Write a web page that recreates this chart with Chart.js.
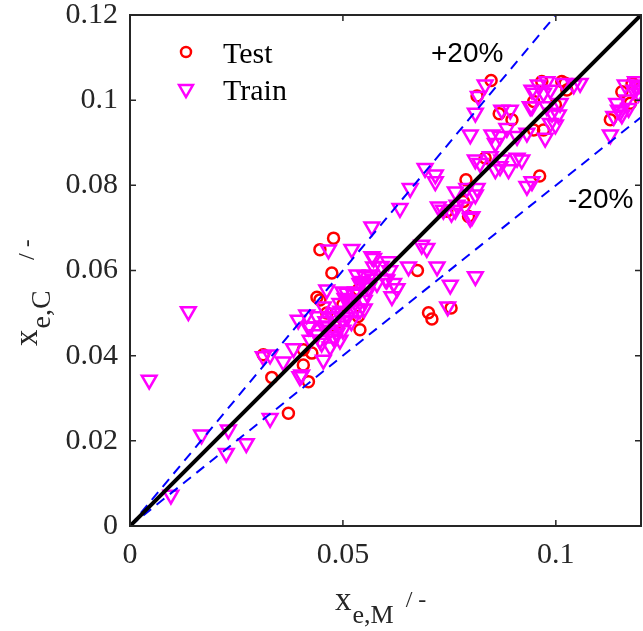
<!DOCTYPE html>
<html><head><meta charset="utf-8">
<script src="https://cdn.jsdelivr.net/npm/chart.js@4.4.1/dist/chart.umd.min.js"></script>
<style>html,body{margin:0;padding:0;background:#fff;overflow:hidden}canvas{display:block}</style>
</head><body>
<canvas id="c" width="643" height="631"></canvas>
<script>
// ---------- data ----------
const seriesNames = ['Test', 'Train'];
const testX = [0.0313,0.0333,0.0372,0.0407,0.0407,0.0419,0.0478,0.0446,0.0474,0.0439,0.0446,0.0536,0.0536,0.0540,0.0427,
  0.0675,0.0701,0.0709,0.0754,0.0783,0.0789,0.0744,0.0795,0.0848,0.0815,0.0867,0.0897,0.0948,0.0948,0.0971,0.0967,0.1014,
  0.0962,0.0834,0.1026,0.0999,0.1155,0.1128,0.1179,0.1175,0.1022,0.0462,0.0500,0.0480];
const testY = [0.0402,0.0349,0.0265,0.0414,0.0378,0.0339,0.0676,0.0649,0.0594,0.0537,0.0531,0.0555,0.0492,0.0461,0.0406,
  0.0600,0.0501,0.0486,0.0512,0.0762,0.0813,0.0739,0.0727,0.1046,0.1010,0.0968,0.0954,0.0997,0.0930,0.0930,0.1044,0.1044,
  0.0822,0.0864,0.1024,0.0989,0.1020,0.0954,0.1040,0.0993,0.1040,0.0500,0.0520,0.0470];
const trainX = [0.0137,0.0045,0.0168,0.0231,0.0226,0.0273,0.0329,0.0096,0.0313,0.0360,0.0384,0.0399,0.0395,0.0415,0.0419,
  0.0568,0.0521,0.0466,0.0552,0.0568,0.0572,0.0509,0.0462,0.0403,0.0454,0.0486,0.0478,0.0423,0.0439,0.0493,0.0525,0.0556,
  0.0540,0.0580,0.0446,0.0470,0.0423,0.0533,0.0454,0.0478,0.0501,0.0493,0.0329,0.0462,0.0693,0.0717,0.0717,0.0658,0.0634,
  0.0572,0.0607,0.0619,0.0627,0.0615,0.0654,0.0685,0.0697,0.0721,0.0752,0.0811,0.0746,0.0736,0.0764,0.0803,0.0764,0.0815,
  0.0811,0.0822,0.0834,0.0818,0.0811,0.0799,0.0873,0.0893,0.0850,0.0869,0.0885,0.0858,0.0909,0.0932,0.0940,0.0971,0.0987,
  0.0991,0.0999,0.0975,0.1018,0.0952,0.0811,0.0846,0.0873,0.0909,0.0920,0.0858,0.0889,0.0869,0.0791,0.0724,0.0768,0.0787,
  0.0932,0.0944,0.0944,0.0959,0.0979,0.1057,0.1042,0.0944,0.0979,0.1006,0.0987,0.1163,0.1187,0.1198,0.1143,0.1167,0.1171,
  0.1151,0.1136,0.1128,0.1183,0.1191,0.1194,0.1147,0.1155,0.1010,0.0755,0.0799,0.0603,
  0.0480,0.0510,0.0530,0.0550,0.0490,0.0520,0.0470,0.0540,0.0560,0.0570,0.0500,0.0460,0.0440,0.0450,0.0590,0.0600,0.0610,
  0.0510,0.0530,0.0490,0.0480,0.0500,0.0520,0.0550,
  0.0455,0.0475,0.0495,0.0515,0.0535,0.0555,0.0505,0.0525,0.0545,0.0565];
const trainY = [0.0504,0.0343,0.0214,0.0226,0.0171,0.0194,0.0253,0.0073,0.0398,0.0386,0.0417,0.0351,0.0484,0.0496,0.0468,
  0.0703,0.0650,0.0649,0.0586,0.0633,0.0609,0.0547,0.0555,0.0355,0.0390,0.0453,0.0492,0.0468,0.0492,0.0523,0.0531,0.0547,
  0.0508,0.0570,0.0437,0.0421,0.0437,0.0590,0.0515,0.0445,0.0484,0.0437,0.0402,0.0468,0.0840,0.0825,0.0809,0.0793,0.0746,
  0.0629,0.0621,0.0570,0.0558,0.0539,0.0609,0.0660,0.0652,0.0609,0.0566,0.0586,0.0515,0.0742,0.0742,0.0727,0.0785,0.0793,
  0.0778,0.0852,0.1036,0.1009,0.0970,0.0919,0.0977,0.0977,0.0919,0.0915,0.0934,0.0899,0.0915,0.0923,0.0985,0.1017,0.1024,
  0.0970,0.0942,0.0911,0.1040,0.1017,0.0860,0.0868,0.0860,0.0864,0.0860,0.0837,0.0837,0.0844,0.0793,0.0750,0.0754,0.0750,
  0.0798,0.0809,0.1024,0.1036,0.1044,0.1040,0.1036,0.0985,0.0985,0.0966,0.0946,0.1036,0.1044,0.1036,0.0993,0.1001,0.0981,
  0.0973,0.0962,0.0919,0.1024,0.1032,0.1017,0.0977,0.0966,0.0993,0.0735,0.0723,0.0578,
  0.0500,0.0490,0.0550,0.0530,0.0470,0.0510,0.0460,0.0570,0.0560,0.0580,0.0550,0.0480,0.0450,0.0430,0.0610,0.0580,0.0600,
  0.0530,0.0510,0.0500,0.0440,0.0460,0.0480,0.0510,
  0.0470,0.0490,0.0505,0.0525,0.0545,0.0565,0.0535,0.0545,0.0575,0.0590];
const refLineX = [0, 0.12];   const refLineY = [0, 0.12];
const plusLineX = [0, 0.1];   const plusLineY = [0, 0.12];
const minusLineX = [0, 0.12]; const minusLineY = [0, 0.096];
const xTicks = [0, 0.05, 0.1];
const xTickLabels = ['0', '0.05', '0.1'];
const yTicks = [0, 0.02, 0.04, 0.06, 0.08, 0.1, 0.12];
const yTickLabels = ['0', '0.02', '0.04', '0.06', '0.08', '0.1', '0.12'];
const annotations = ['+20%', '-20%'];

// ---------- chart ----------
const zip = (xs, ys) => xs.map((v, i) => ({ x: v, y: ys[i] }));
const SERIF = "'Liberation Serif','Times New Roman',serif";
const SANS = "'Liberation Sans',Arial,sans-serif";
const AXC = '#262626';
const noPad = s => { s.paddingTop = 0; s.paddingBottom = 0; s.paddingLeft = 0; s.paddingRight = 0; };

const framePlugin = {
  id: 'frame',
  afterDraw(chart) {
    const { ctx, chartArea: a, scales: { x, y } } = chart;
    ctx.save();
    // box
    ctx.strokeStyle = AXC; ctx.lineWidth = 2;
    ctx.strokeRect(a.left, a.top, a.right - a.left, a.bottom - a.top);
    // inward ticks
    const L = 6; ctx.lineWidth = 1.5; ctx.beginPath();
    xTicks.forEach(v => { const p = x.getPixelForValue(v);
      ctx.moveTo(p, a.bottom); ctx.lineTo(p, a.bottom - L);
      ctx.moveTo(p, a.top); ctx.lineTo(p, a.top + L); });
    yTicks.forEach(v => { const p = y.getPixelForValue(v);
      ctx.moveTo(a.left, p); ctx.lineTo(a.left + L, p);
      ctx.moveTo(a.right, p); ctx.lineTo(a.right - L, p); });
    ctx.stroke();

    // legend
    ctx.lineWidth = 2.5;
    ctx.strokeStyle = '#FF0000';
    ctx.beginPath(); ctx.arc(186, 52, 5, 0, Math.PI * 2); ctx.stroke();
    ctx.strokeStyle = '#FF00FF';
    ctx.beginPath();
    const tx = 186, ty = 89, r = 8;
    for (let k = 0; k < 3; k++) {
      const ang = Math.PI + k * 2 * Math.PI / 3;
      const px = tx + Math.sin(ang) * r, py = ty - Math.cos(ang) * r;
      k === 0 ? ctx.moveTo(px, py) : ctx.lineTo(px, py);
    }
    ctx.closePath(); ctx.stroke();
    ctx.fillStyle = '#000';
    ctx.font = `30px ${SERIF}`; ctx.textBaseline = 'alphabetic'; ctx.textAlign = 'left';
    ctx.fillText(seriesNames[0], 223, 63);
    ctx.fillText(seriesNames[1], 223, 100);

    // annotations
    ctx.font = `28px ${SANS}`;
    ctx.fillText(annotations[0], 431, 62);
    ctx.fillText(annotations[1], 568, 208);

    // x axis title
    ctx.fillStyle = '#262626';
    ctx.font = `33px ${SERIF}`;
    ctx.fillText('x', 335, 610);
    let w = ctx.measureText('x').width;
    ctx.font = `26px ${SERIF}`;
    ctx.fillText('e,M', 335 + w + 1, 623);
    let w2 = ctx.measureText('e,M').width;
    ctx.font = `24px ${SERIF}`;
    ctx.fillText('/ -', 335 + w + 1 + w2 + 12, 607);

    // y axis title
    ctx.save();
    ctx.translate(37, 346); ctx.rotate(-Math.PI / 2);
    ctx.font = `33px ${SERIF}`;
    ctx.fillText('x', 0, 0);
    w = ctx.measureText('x').width;
    ctx.font = `28px ${SERIF}`;
    ctx.fillText('e,C', w + 1, 13);
    ctx.font = `24px ${SERIF}`;
    ctx.fillText('/ -', 86, -3);
    ctx.restore();

    ctx.restore();
  }
};

new Chart(document.getElementById('c'), {
  type: 'scatter',
  data: {
    datasets: [
      { label: 'y = x', data: zip(refLineX, refLineY), showLine: true, borderColor: '#000000', borderWidth: 4,
        pointRadius: 0, fill: false, order: 1 },
      { label: '+20%', data: zip(plusLineX, plusLineY), showLine: true, borderColor: '#0000FF', borderWidth: 2,
        borderDash: [10, 7], pointRadius: 0, fill: false, order: 1 },
      { label: '-20%', data: zip(minusLineX, minusLineY), showLine: true, borderColor: '#0000FF', borderWidth: 2,
        borderDash: [10, 7], pointRadius: 0, fill: false, order: 1 },
      { label: seriesNames[1], data: zip(trainX, trainY), pointStyle: 'triangle', pointRotation: 180, pointRadius: 8.5,
        pointBorderColor: '#FF00FF', pointBackgroundColor: 'rgba(0,0,0,0)', pointBorderWidth: 2.5, order: 2 },
      { label: seriesNames[0], data: zip(testX, testY), pointStyle: 'circle', pointRadius: 5.5,
        pointBorderColor: '#FF0000', pointBackgroundColor: 'rgba(0,0,0,0)', pointBorderWidth: 2.5, order: 3 }
    ]
  },
  options: {
    responsive: false, animation: false, devicePixelRatio: 1,
    layout: { autoPadding: false, padding: { left: 0, right: 2, top: 15, bottom: 0 } },
    plugins: { legend: { display: false }, tooltip: { enabled: false } },
    scales: {
      x: {
        type: 'linear', min: 0, max: 0.12, position: 'bottom',
        afterBuildTicks: s => { s.ticks = xTicks.map(v => ({ value: v })); },
        afterFit: s => { s.height = 105; noPad(s); },
        ticks: { callback: v => xTickLabels[xTicks.indexOf(v)], font: { family: SERIF, size: 30, lineHeight: 1 },
          color: AXC, padding: 14, maxRotation: 0, autoSkip: false },
        grid: { display: false, drawTicks: false },
        border: { display: false }
      },
      y: {
        type: 'linear', min: 0, max: 0.12, position: 'left',
        afterBuildTicks: s => { s.ticks = yTicks.map(v => ({ value: v })); },
        afterFit: s => { s.width = 130; noPad(s); },
        ticks: { callback: v => yTickLabels[yTicks.indexOf(v)], font: { family: SERIF, size: 30, lineHeight: 0.9 },
          color: AXC, padding: 12, autoSkip: false },
        grid: { display: false, drawTicks: false },
        border: { display: false }
      }
    }
  },
  plugins: [framePlugin]
});
</script>
</body></html>
